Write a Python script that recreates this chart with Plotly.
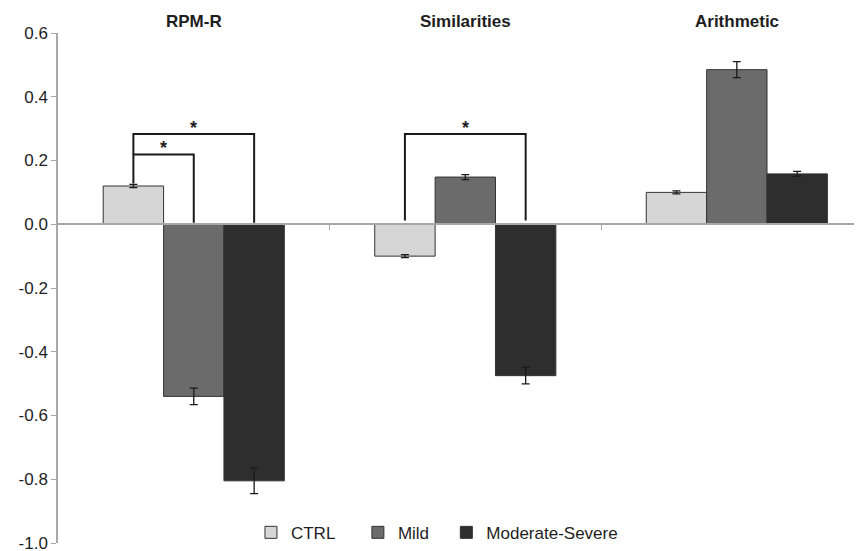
import plotly.graph_objects as go

# ---- data ----
categories = ["RPM-R", "Similarities", "Arithmetic"]
series_names = ["CTRL", "Mild", "Moderate-Severe"]
ctrl_values = [0.12, -0.10, 0.10]
ctrl_errors = [0.005, 0.005, 0.005]
mild_values = [-0.54, 0.148, 0.485]
mild_errors = [0.026, 0.008, 0.025]
modsev_values = [-0.805, -0.475, 0.158]
modsev_errors = [0.04, 0.026, 0.008]
y_tickvals = [0.6, 0.4, 0.2, 0.0, -0.2, -0.4, -0.6, -0.8, -1.0]
y_ticktext = ["0.6", "0.4", "0.2", "0.0", "-0.2", "-0.4", "-0.6", "-0.8", "-1.0"]
# significance brackets: (category index, series a, series b, bracket level, leg a bottom, leg b bottom)
brackets = [
    (0, 0, 1, 0.219, 0.128, 0.005),
    (0, 0, 2, 0.283, 0.219, 0.005),
    (1, 0, 2, 0.283, 0.012, 0.012),
]

colors = ["#d6d6d6", "#6b6b6b", "#2e2e2e"]
FONT = "Liberation Sans, Arial, sans-serif"
TXT = "#1e1e1e"

values = [ctrl_values, mild_values, modsev_values]
errors = [ctrl_errors, mild_errors, modsev_errors]
legend_ids = ["legend", "legend2", "legend3"]
legend_x = [0.240, 0.373, 0.483]

bargap = 0.333
bar_w = (1 - bargap) / 3
x_idx = list(range(len(categories)))

fig = go.Figure()
for i, name in enumerate(series_names):
    fig.add_trace(go.Bar(
        x=x_idx, y=values[i], name=name, legend=legend_ids[i],
        marker=dict(color=colors[i], line=dict(color="#333333", width=1)),
        error_y=dict(type="data", array=errors[i], visible=True,
                     color="#1a1a1a", thickness=1.3, width=4),
        hoverinfo="skip",
    ))

# brackets
for (c, a, b, lvl, la, lb) in brackets:
    xa = c + (a - 1) * bar_w
    xb = c + (b - 1) * bar_w
    fig.add_trace(go.Scatter(
        x=[xa, xa, xb, xb], y=[la, lvl, lvl, lb], mode="lines",
        line=dict(color="#1a1a1a", width=2), showlegend=False, hoverinfo="skip",
    ))
    fig.add_annotation(x=(xa + xb) / 2, y=lvl, text="<b>*</b>", showarrow=False,
                       xref="x", yref="y", yanchor="bottom", yshift=-6,
                       font=dict(family=FONT, size=18, color=TXT))

for i, cat in enumerate(categories):
    fig.add_annotation(x=i, y=1, xref="x", yref="paper", text="<b>%s</b>" % cat,
                       showarrow=False, yanchor="middle", yshift=12,
                       font=dict(family=FONT, size=17, color=TXT))

legend_common = dict(orientation="h", xanchor="left", y=0.02, yanchor="middle",
                     font=dict(family=FONT, size=17, color=TXT),
                     bgcolor="rgba(0,0,0,0)", itemwidth=30)
legends = {lid: dict(x=lx, **legend_common) for lid, lx in zip(legend_ids, legend_x)}

fig.update_layout(
    width=862, height=551,
    margin=dict(l=50, r=8, t=25, b=14),
    paper_bgcolor="white", plot_bgcolor="white",
    barmode="group", bargap=bargap, bargroupgap=0,
    font=dict(family=FONT, size=17, color=TXT),
    showlegend=True,
    xaxis=dict(range=[-0.5, 2.461], showgrid=False, zeroline=False, automargin=False,
               showline=True, linecolor="#a8a8a8", linewidth=1.5,
               anchor="free", position=0.625,
               tickvals=[0.5, 1.5], ticktext=["", ""], ticks="outside",
               ticklen=5, tickcolor="#a8a8a8", tickwidth=1),
    yaxis=dict(range=[-1.0, 0.6], showgrid=False, zeroline=False, automargin=False,
               showline=True, linecolor="#a8a8a8", linewidth=1.5,
               tickvals=y_tickvals, ticktext=y_ticktext, ticks="outside",
               ticklabeloverflow="allow",
               ticklen=5, tickcolor="#a8a8a8", tickwidth=1,
               tickfont=dict(family=FONT, size=17, color=TXT)),
    **legends,
)

fig.write_html("out.html")
